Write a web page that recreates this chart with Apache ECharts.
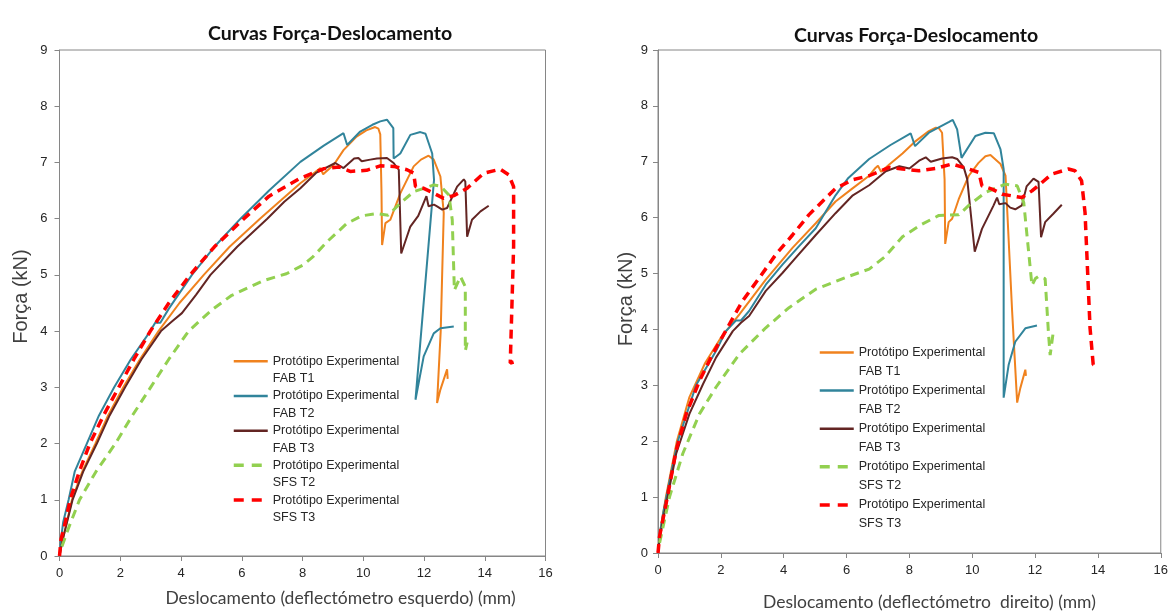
<!DOCTYPE html>
<html>
<head>
<meta charset="utf-8">
<script src="https://cdn.jsdelivr.net/npm/echarts@6/dist/echarts.min.js"></script>
<style>
  html, body { margin: 0; padding: 0; background: #fff; }
  #chart { width: 1171px; height: 616px; }
</style>
</head>
<body>
<div id="chart"></div>
<script>
/* Curvas Força-Deslocamento: two panels, left and right deflectometer */

// ---- data (x = deslocamento mm, y = força kN) ----
const NAMES = [
  "Protótipo Experimental\nFAB T1",
  "Protótipo Experimental\nFAB T2",
  "Protótipo Experimental\nFAB T3",
  "Protótipo Experimental\nSFS T2",
  "Protótipo Experimental\nSFS T3"
];

const X_TICKS = [0, 2, 4, 6, 8, 10, 12, 14, 16];
const Y_TICKS = [0, 1, 2, 3, 4, 5, 6, 7, 8, 9];

// left panel (deflectómetro esquerdo)
const esqFabT1 = [[0,0],[0.08,0.25],[0.2,0.5],[0.41,1.0],[0.75,1.5],[1.18,2.0],[1.6,2.5],[2.1,3.0],[2.65,3.5],[3.26,4.0],[3.95,4.5],[4.75,5.0],[5.6,5.5],[6.6,6.0],[7.3,6.33],[7.93,6.63],[8.4,6.82],[8.59,6.9],[8.68,6.79],[9.03,6.96],[9.35,7.22],[9.78,7.46],[10.1,7.57],[10.39,7.63],[10.5,7.6],[10.56,7.5],[10.6,6.5],[10.62,5.53],[10.73,5.92],[10.89,5.98],[11.22,6.45],[11.66,6.93],[11.9,7.05],[12.15,7.12],[12.32,7.05],[12.54,6.75],[12.65,6.1],[12.55,4.0],[12.43,2.72],[12.54,2.96],[12.76,3.32],[12.78,3.15]];
const esqFabT2 = [[0,0],[0.05,0.3],[0.12,0.6],[0.3,1.0],[0.5,1.5],[0.9,2.0],[1.3,2.5],[1.8,3.0],[2.35,3.5],[2.99,4.0],[3.15,4.15],[3.32,4.15],[3.6,4.4],[4.36,5.0],[5.1,5.5],[5.96,6.0],[6.9,6.5],[7.93,7.01],[8.7,7.3],[9.35,7.52],[9.47,7.31],[9.9,7.55],[10.3,7.67],[10.56,7.73],[10.78,7.76],[10.99,7.61],[11.0,7.07],[11.22,7.16],[11.55,7.49],[11.88,7.54],[12.05,7.51],[12.27,7.16],[12.33,6.69],[11.72,2.78],[11.99,3.55],[12.32,3.96],[12.54,4.05],[12.98,4.08]];
const esqFabT3 = [[0,0],[0.09,0.25],[0.2,0.5],[0.43,1.0],[0.78,1.5],[1.23,2.0],[1.65,2.5],[2.16,3.0],[2.7,3.5],[3.34,4.0],[3.7,4.17],[4.03,4.32],[4.5,4.65],[4.97,5.0],[5.85,5.5],[6.84,6.0],[7.4,6.3],[7.93,6.54],[8.46,6.82],[9.08,6.99],[9.35,6.9],[9.7,7.07],[9.84,7.08],[9.95,7.02],[10.23,7.05],[10.45,7.07],[10.78,7.08],[11.0,6.99],[11.17,6.87],[11.25,5.38],[11.55,5.86],[11.81,6.05],[12.08,6.4],[12.15,6.22],[12.33,6.25],[12.43,6.22],[12.6,6.16],[12.76,6.19],[13.09,6.57],[13.31,6.7],[13.36,6.66],[13.42,5.68],[13.58,5.98],[13.86,6.13],[14.13,6.23]];
const esqSfsT2 = [[0.08,0.17],[0.3,0.5],[0.66,1.0],[1.2,1.5],[1.84,2.0],[2.4,2.5],[3.0,3.0],[3.6,3.5],[4.25,4.0],[5.0,4.37],[5.65,4.63],[6.72,4.9],[7.47,5.02],[8.0,5.17],[8.34,5.32],[8.83,5.6],[9.45,5.91],[9.95,6.05],[10.45,6.09],[10.82,6.06],[11.19,6.26],[11.66,6.48],[12.33,6.6],[12.54,6.58],[12.82,6.42],[12.93,5.98],[13.0,4.73],[13.2,4.97],[13.36,4.79],[13.36,3.65],[13.42,3.8]];
const esqSfsT3 = [[0,0],[0.05,0.3],[0.15,0.5],[0.35,1.0],[0.65,1.5],[1.0,2.0],[1.45,2.5],[1.95,3.0],[2.45,3.5],[2.99,4.0],[3.6,4.5],[4.3,5.0],[5.1,5.5],[6.07,6.0],[6.9,6.4],[7.93,6.72],[8.71,6.89],[9.2,6.92],[9.57,6.84],[10.11,6.86],[10.56,6.94],[11.0,6.93],[11.44,6.87],[11.66,6.81],[11.72,6.57],[11.99,6.54],[12.33,6.45],[12.65,6.36],[12.98,6.41],[13.42,6.54],[13.97,6.81],[14.51,6.88],[14.79,6.78],[14.95,6.57],[14.95,5.5],[14.84,3.43],[14.95,3.45]];

// right panel (deflectómetro direito)
const dirFabT1 = [[0,0],[0.05,0.3],[0.13,0.6],[0.25,1.0],[0.6,2.0],[1.0,2.79],[1.5,3.4],[2.0,3.85],[2.59,4.27],[3.43,4.89],[4.28,5.46],[5.02,5.9],[5.65,6.29],[6.18,6.52],[6.72,6.75],[6.92,6.89],[7.0,6.93],[7.1,6.82],[7.36,6.95],[7.78,7.15],[8.2,7.37],[8.62,7.55],[8.84,7.61],[8.94,7.6],[9.04,7.52],[9.12,6.69],[9.14,5.53],[9.25,5.92],[9.36,5.98],[9.57,6.33],[9.89,6.75],[10.2,6.98],[10.42,7.1],[10.58,7.12],[10.9,6.96],[11.06,6.75],[11.27,4.32],[11.43,2.69],[11.53,2.95],[11.69,3.28],[11.71,3.17]];
const dirFabT2 = [[0,0],[0.06,0.35],[0.16,0.7],[0.37,1.3],[0.63,2.0],[1.21,3.0],[1.85,3.62],[2.16,3.97],[2.48,4.16],[2.64,4.16],[2.9,4.33],[3.43,4.8],[3.96,5.16],[4.49,5.49],[5.02,5.81],[5.65,6.4],[6.04,6.7],[6.72,7.05],[7.4,7.3],[8.04,7.51],[8.18,7.28],[8.62,7.52],[9.25,7.71],[9.38,7.75],[9.52,7.58],[9.66,7.07],[9.71,7.05],[10.1,7.46],[10.42,7.52],[10.69,7.51],[10.9,7.22],[11.0,6.87],[11.0,2.78],[11.16,3.37],[11.37,3.78],[11.69,4.02],[12.06,4.07]];
const dirFabT3 = [[0,0],[0.05,0.25],[0.16,0.59],[0.58,1.78],[1.0,2.49],[1.43,3.02],[1.85,3.5],[2.38,3.97],[2.64,4.12],[2.9,4.24],[3.43,4.69],[3.96,5.01],[4.38,5.28],[5.02,5.69],[5.65,6.08],[6.2,6.4],[6.72,6.58],[7.25,6.83],[7.68,6.92],[8.0,6.88],[8.31,7.02],[8.52,7.08],[8.68,7.0],[9.04,7.06],[9.36,7.08],[9.52,7.05],[9.73,6.9],[9.84,6.69],[10.08,5.39],[10.31,5.8],[10.68,6.22],[10.79,6.36],[10.86,6.24],[11.06,6.26],[11.21,6.18],[11.37,6.15],[11.58,6.22],[11.73,6.56],[11.95,6.7],[12.11,6.64],[12.19,5.65],[12.32,5.92],[12.58,6.07],[12.85,6.23]];
const dirSfsT2 = [[0.05,0.18],[0.37,1.01],[0.79,1.78],[1.32,2.49],[1.85,2.97],[2.59,3.56],[3.43,4.03],[4.17,4.39],[5.02,4.72],[6.07,4.95],[6.72,5.08],[7.22,5.3],[7.78,5.66],[8.39,5.88],[8.94,6.04],[9.57,6.05],[9.89,6.22],[10.42,6.45],[11.06,6.6],[11.43,6.57],[11.64,6.27],[11.9,4.79],[12.01,4.91],[12.11,4.95],[12.32,4.91],[12.43,3.9],[12.48,3.54],[12.58,3.96]];
const dirSfsT3 = [[0,0],[0.05,0.3],[0.26,0.89],[0.58,1.84],[0.9,2.49],[1.32,3.08],[1.74,3.56],[2.27,4.09],[2.69,4.51],[3.22,4.92],[3.75,5.34],[4.28,5.69],[4.8,6.05],[5.23,6.29],[5.65,6.52],[6.2,6.68],[6.72,6.75],[7.36,6.9],[7.78,6.87],[8.31,6.84],[8.84,6.88],[9.36,6.96],[9.89,6.87],[10.21,6.81],[10.31,6.57],[10.63,6.51],[10.95,6.42],[11.27,6.39],[11.58,6.36],[11.9,6.48],[12.22,6.63],[12.53,6.78],[13.06,6.87],[13.27,6.84],[13.48,6.66],[13.59,6.09],[13.75,4.02],[13.85,3.37],[14.01,3.35]];

(function () {
  const el = document.getElementById("chart");
  const chart = echarts.init(el, null, { renderer: "canvas" });

  // colours as in the Excel figure
  const COLORS = ["#F0821E", "#31849B", "#632523", "#92D050", "#FF0000"];
  const ARIAL = "'Liberation Sans', Arial, sans-serif";
  const CALIBRI = "Lato, 'Liberation Sans', sans-serif";   // closest installed to Calibri
  const AXIS_COL = "#868686";
  const TEXT_COL = "#262626";

  const STYLE = [
    { width: 2, type: "solid" },
    { width: 2, type: "solid" },
    { width: 2, type: "solid" },
    { width: 3, type: [9, 6] },
    { width: 3.5, type: [9, 6] }
  ];
  // legend swatches are drawn a bit heavier than the plotted lines
  const LEGEND_LINE = [
    { width: 2.5, type: "solid" },
    { width: 2.5, type: "solid" },
    { width: 2.5, type: "solid" },
    { width: 3.5, type: [10, 8] },
    { width: 3.5, type: [10, 8] }
  ];

  function xAxis(gridIndex, name, gap, shift) {
    return {
      type: "value",
      gridIndex,
      min: X_TICKS[0],
      max: X_TICKS[X_TICKS.length - 1],
      interval: 2,
      name,
      nameLocation: "middle",
      nameGap: gap,
      nameTextStyle: {
        fontFamily: CALIBRI, fontSize: 17.5, color: "#404040",
        padding: [0, 0, 0, shift * 2]
      },
      axisLine: { lineStyle: { color: AXIS_COL, width: 1 } },
      axisTick: { show: true, length: 5, lineStyle: { color: AXIS_COL } },
      axisLabel: { fontFamily: ARIAL, fontSize: 13, color: TEXT_COL, margin: 11 },
      splitLine: { show: false }
    };
  }

  function yAxis(gridIndex, gap, shift, margin) {
    return {
      type: "value",
      gridIndex,
      min: Y_TICKS[0],
      max: Y_TICKS[Y_TICKS.length - 1],
      interval: 1,
      name: "Força (kN)",
      nameLocation: "middle",
      nameGap: gap,
      nameTextStyle: {
        fontFamily: ARIAL, fontSize: 20, color: "#404040",
        padding: [0, 0, 0, shift * 2]
      },
      axisLine: { lineStyle: { color: AXIS_COL, width: 1 } },
      axisTick: { show: true, length: 5, lineStyle: { color: AXIS_COL } },
      axisLabel: { fontFamily: ARIAL, fontSize: 13, color: TEXT_COL, margin },
      splitLine: { show: false }
    };
  }

  // each legend label gets a blank first line, so the icon (centred) sits on "Protótipo Experimental"
  function legend(left, top, lh, step) {
    return {
      orient: "vertical",
      left, top,
      padding: 0,
      data: NAMES.map((name, i) => ({
        name,
        lineStyle: { width: LEGEND_LINE[i].width, type: LEGEND_LINE[i].type, color: COLORS[i] }
      })),
      itemWidth: 34,
      itemHeight: 14,
      itemGap: step - 3 * lh,
      formatter: (name) => " \n" + name,
      itemStyle: { color: "rgba(0,0,0,0)", borderWidth: 0, opacity: 0 },
      textStyle: { fontFamily: ARIAL, fontSize: 12.5, color: TEXT_COL, lineHeight: lh },
      selectedMode: false
    };
  }

  const panels = [
    [esqFabT1, esqFabT2, esqFabT3, esqSfsT2, esqSfsT3],
    [dirFabT1, dirFabT2, dirFabT3, dirSfsT2, dirSfsT3]
  ];

  const series = [];
  panels.forEach((sets, gi) => {
    sets.forEach((data, i) => {
      series.push({
        name: NAMES[i],
        type: "line",
        xAxisIndex: gi,
        yAxisIndex: gi,
        data,
        symbol: "none",
        smooth: false,
        color: COLORS[i],
        lineStyle: { color: COLORS[i], width: STYLE[i].width, type: STYLE[i].type },
        z: 2 + i
      });
    });
  });

  const TITLE = "Curvas Força-Deslocamento";
  const titleStyle = { fontFamily: CALIBRI, fontWeight: "bold", fontSize: 19.5, color: "#111" };

  const option = {
    animation: false,
    backgroundColor: "#ffffff",
    title: [
      { text: TITLE, left: 325, top: 19, textAlign: "center", textStyle: titleStyle },
      { text: TITLE, left: 911, top: 21, textAlign: "center", textStyle: titleStyle }
    ],
    grid: [
      { left: 59.5, right: 625.5, top: 50, bottom: 60, show: true, borderColor: AXIS_COL, borderWidth: 1, containLabel: false },
      { left: 658, right: 8, top: 50, bottom: 60, show: true, borderColor: AXIS_COL, borderWidth: 1, containLabel: false }
    ],
    xAxis: [
      xAxis(0, "Deslocamento (deflectómetro esquerdo) (mm)", 33, 38),
      xAxis(1, "Deslocamento (deflectómetro  direito) (mm)", 40, 20)
    ],
    yAxis: [
      yAxis(0, 28, 6.5, 12),
      yAxis(1, 17, 2.5, 10)
    ],
    legend: [
      legend(232, 335, 17.5, 34.7),
      legend(818, 324, 19, 38.1)
    ],
    series
  };

  chart.setOption(option, true);
})();
</script>
</body>
</html>
